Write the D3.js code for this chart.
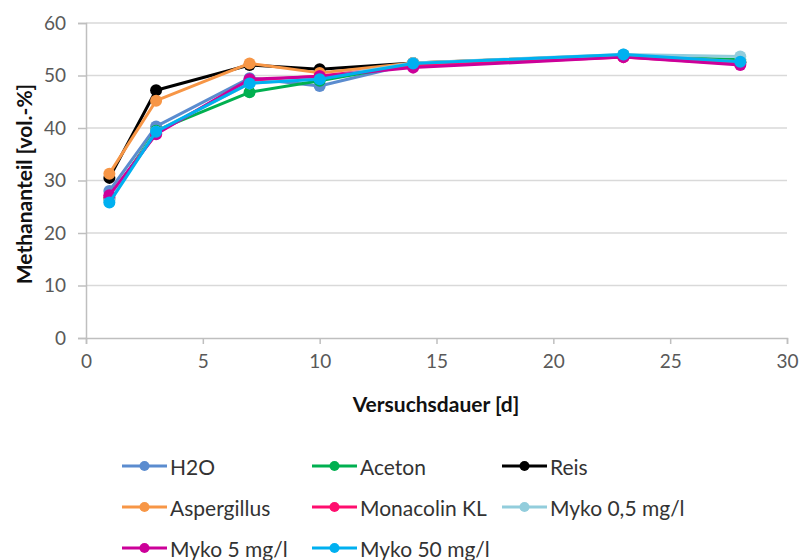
<!DOCTYPE html>
<html><head><meta charset="utf-8">
<script src="https://cdn.jsdelivr.net/npm/d3@7"></script>
<style>body{margin:0;background:#fff;} text{font-family:Lato,"Open Sans",sans-serif;}</style>
</head><body><svg id="c" width="803" height="560"></svg>
<script>
const days = [1, 3, 7, 10, 14, 23, 28];
const seriesNames = ["H2O", "Aceton", "Reis", "Aspergillus", "Monacolin KL", "Myko 0,5 mg/l", "Myko 5 mg/l", "Myko 50 mg/l"];
const h2o = [28.0, 40.3, 49.5, 48.0, 52.3, 53.8, 52.5];
const aceton = [26.5, 39.5, 46.8, 49.0, 52.2, 53.8, 53.0];
const reis = [30.5, 47.2, 52.0, 51.2, 52.4, 53.8, 52.5];
const aspergillus = [31.3, 45.2, 52.3, 50.5, 52.4, 53.9, 52.6];
const monacolin = [26.8, 39.0, 49.0, 49.9, 51.8, 53.5, 52.2];
const myko05 = [26.2, 39.3, 48.5, 49.5, 52.4, 54.0, 53.6];
const myko5 = [27.2, 38.8, 49.3, 49.8, 51.5, 53.5, 52.0];
const myko50 = [25.8, 39.3, 48.5, 49.3, 52.3, 54.0, 52.6];
const colors = ["#5b8ccf", "#00b050", "#000000", "#f79646", "#ff0d6e", "#92cddc", "#cc0099", "#00b0f0"];
const xTicks = [0, 5, 10, 15, 20, 25, 30];
const yTicks = [0, 10, 20, 30, 40, 50, 60];
const allValues = [h2o, aceton, reis, aspergillus, monacolin, myko05, myko5, myko50];

const svg = d3.select("#c");
const L = 86, R = 787, T = 23, B = 338;
const x = d3.scaleLinear().domain([0, 30]).range([L, R]);
const y = d3.scaleLinear().domain([0, 60]).range([B, T]);
const FONT = "Lato,'Open Sans',sans-serif";

// gridlines
svg.append("g").selectAll("line").data(yTicks.filter(d => d > 0)).join("line")
  .attr("x1", L).attr("x2", R).attr("y1", d => y(d)).attr("y2", d => y(d))
  .attr("stroke", "#d9d9d9").attr("stroke-width", 1.5);

// y axis
const ya = svg.append("g").attr("transform", `translate(${L},0)`)
  .call(d3.axisLeft(y).tickValues(yTicks).tickSize(8).tickPadding(12));
ya.select(".domain").attr("stroke", "#bfbfbf").attr("stroke-width", 1.5);
ya.selectAll(".tick line").attr("stroke", "#bfbfbf").attr("stroke-width", 1.5);
ya.selectAll("text").attr("fill", "#595959").attr("font-size", 19).style("font-family", FONT);

// x axis
const xa = svg.append("g").attr("transform", `translate(0,${B})`)
  .call(d3.axisBottom(x).tickValues(xTicks).tickSize(6).tickPadding(11));
xa.select(".domain").attr("stroke", "#bfbfbf").attr("stroke-width", 1.5);
xa.selectAll(".tick line").attr("stroke", "#bfbfbf").attr("stroke-width", 1.5);
xa.selectAll("text").attr("fill", "#595959").attr("font-size", 19).style("font-family", FONT);

// titles
svg.append("text").attr("x", 436).attr("y", 412).attr("text-anchor", "middle")
  .attr("font-size", 21).attr("font-weight", "bold").attr("fill", "#111").text("Versuchsdauer [d]");
svg.append("text").attr("transform", `translate(23,184) rotate(-90)`).attr("text-anchor", "middle")
  .attr("dominant-baseline", "central")
  .attr("font-size", 21).attr("font-weight", "bold").attr("fill", "#111").text("Methananteil [vol.-%]");

// series
const line = d3.line().x((d, i) => x(days[i])).y(d => y(d));
allValues.forEach((vals, k) => {
  const g = svg.append("g");
  g.append("path").datum(vals).attr("d", line).attr("fill", "none")
    .attr("stroke", colors[k]).attr("stroke-width", 3).attr("stroke-linejoin", "round");
  g.selectAll("circle").data(vals).join("circle")
    .attr("cx", (d, i) => x(days[i])).attr("cy", d => y(d)).attr("r", 6).attr("fill", colors[k]);
});

// legend
const colX = [122, 312, 502];
const rowY = [466, 507, 548];
seriesNames.forEach((name, k) => {
  const cx = colX[k % 3], cy = rowY[Math.floor(k / 3)];
  const g = svg.append("g");
  g.append("line").attr("x1", cx).attr("x2", cx + 45).attr("y1", cy).attr("y2", cy)
    .attr("stroke", colors[k]).attr("stroke-width", 3);
  g.append("circle").attr("cx", cx + 22.5).attr("cy", cy).attr("r", 5).attr("fill", colors[k]);
  g.append("text").attr("x", cx + 48).attr("y", cy).attr("dominant-baseline", "central")
    .attr("font-size", 21).attr("fill", "#333").text(name);
});
</script></body></html>
